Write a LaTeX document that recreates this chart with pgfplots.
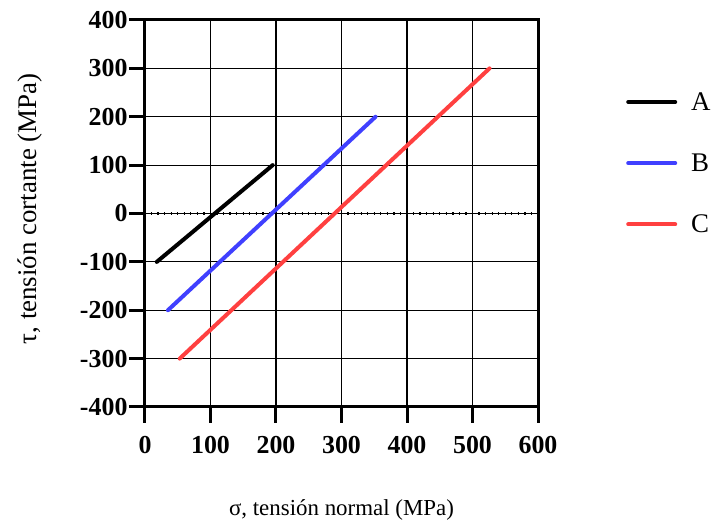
\documentclass[border=0pt]{standalone}
\usepackage{fontspec}
\setmainfont{Liberation Serif}
\usepackage{pgfplots}
\pgfplotsset{compat=1.18}

\definecolor{lineB}{RGB}{64,64,255}
\definecolor{lineC}{RGB}{255,64,64}

\begin{document}
\begin{tikzpicture}
  \begin{axis}[
    scale only axis,
    width=393bp, height=387bp,
    xmin=0, xmax=600, ymin=-400, ymax=400,
    xtick={0,100,...,600},
    ytick={-400,-300,...,400},
    grid=major,
    major grid style={black, line width=1.2bp},
    axis line style={black, line width=3bp},
    tick pos=left,
    tick align=outside,
    major tick length=16bp,
    major tick style={black, line width=3bp},
    /pgf/number format/assume math mode=true,
    ticklabel style={font=\fontsize{26}{26}\selectfont\bfseries},
    yticklabel style={xshift=2bp},
    xticklabel style={yshift=-10bp},
    xlabel={σ, tensión normal (MPa)},
    ylabel={τ, tensión cortante (MPa)},
    xlabel style={font=\fontsize{23}{23}\selectfont, at={(axis description cs:0.5,-0.266)}, anchor=center},
    ylabel style={font=\fontsize{27}{27}\selectfont, at={(axis description cs:-0.293,0.512)}, anchor=center},
    clip=false,
    legend cell align=left,
    legend style={draw=none, fill=none, at={(1.224,0.630)}, anchor=west,
      inner xsep=0pt, inner ysep=0pt, row sep=38bp,
      font=\fontsize{27}{27}\selectfont,
      nodes={inner xsep=14bp, inner ysep=2bp}},
    legend image code/.code={\draw[#1, line width=4bp, line cap=round] (0bp,0bp) -- (47bp,0bp);},
  ]
    \draw[black, line width=1.5bp] (axis cs:0,0) -- (axis cs:600,0);
    \draw[black, line width=3.5bp, dash pattern=on 1.3bp off 5.25bp, dash phase=0.65bp] (axis cs:0,0) -- (axis cs:600,0);
    \addplot[black, line width=4bp, line cap=round] coordinates {(18,-100) (195,100)};
    \addlegendentry{A}
    \addplot[lineB, line width=4bp, line cap=round] coordinates {(35,-200) (352,200)};
    \addlegendentry{B}
    \addplot[lineC, line width=4bp, line cap=round] coordinates {(53,-300) (526,300)};
    \addlegendentry{C}
  \end{axis}
  \pgfresetboundingbox
  \path ([xshift=-145bp, yshift=-121bp]current axis.south west) rectangle ([xshift=180bp, yshift=20bp]current axis.north east);
\end{tikzpicture}
\end{document}
